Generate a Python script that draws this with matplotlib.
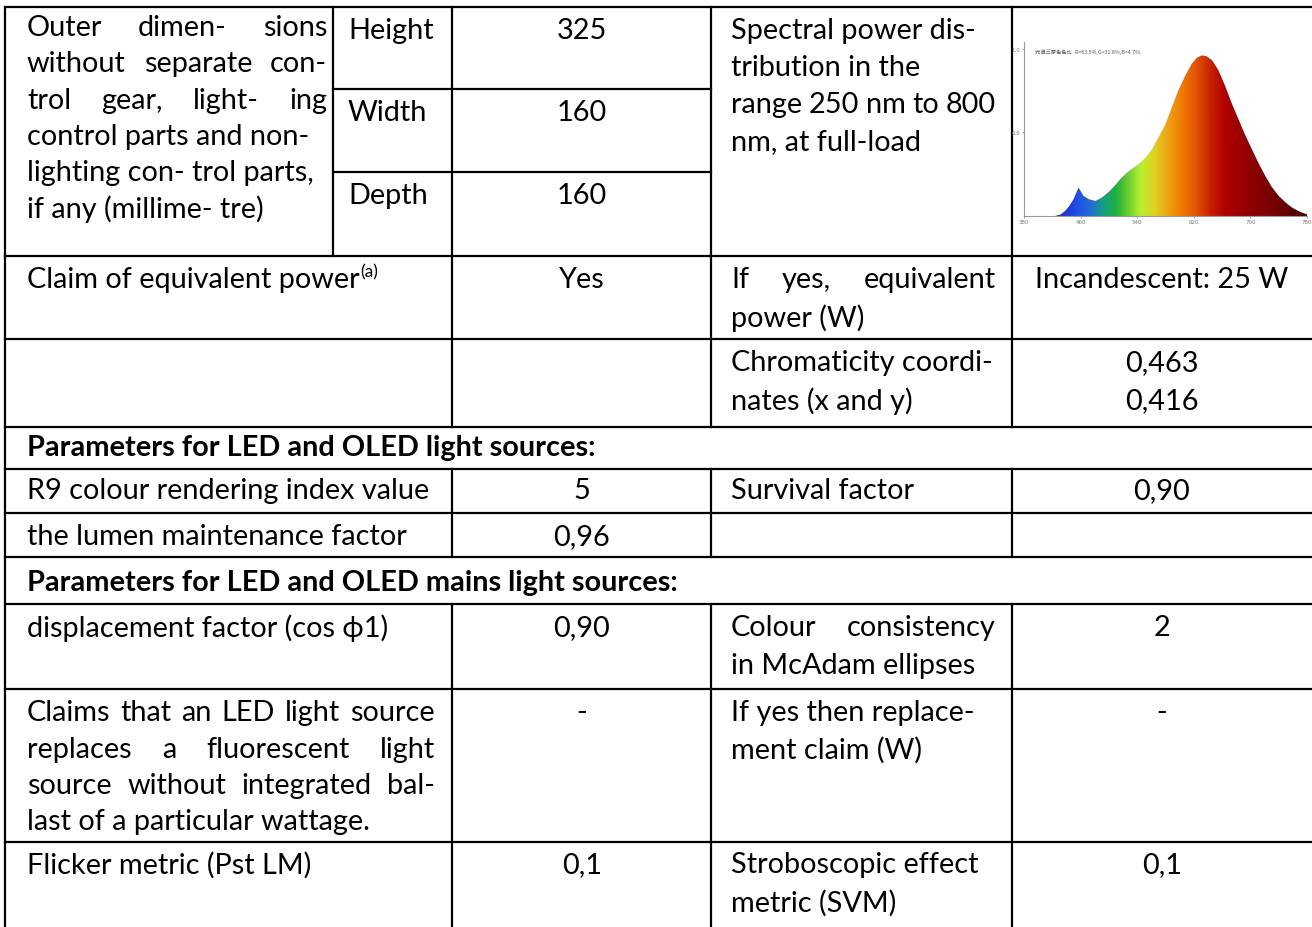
import numpy as np
import matplotlib.pyplot as plt
from matplotlib.colors import LinearSegmentedColormap
from matplotlib.patches import Polygon

# spectral power distribution
wavelength = [380, 424, 432, 438, 444, 450, 454, 457, 460, 464, 472, 481, 490, 500, 508,
              518, 530, 542, 552, 561, 570, 580, 589, 598, 608, 617, 624, 631, 638,
              646, 655, 664, 673, 683, 692, 702, 711, 721, 730, 740, 750, 759, 770, 780]
power = [0.0, 0.0, 0.01, 0.03, 0.06, 0.10, 0.14, 0.17, 0.15, 0.12, 0.10, 0.09, 0.11,
         0.145, 0.18, 0.23, 0.275, 0.31, 0.35, 0.40, 0.47, 0.55, 0.65, 0.75, 0.84, 0.91,
         0.945, 0.96, 0.955, 0.93, 0.87, 0.78, 0.68, 0.58, 0.49, 0.40, 0.32, 0.24, 0.175,
         0.12, 0.08, 0.05, 0.025, 0.01]
wl_ticks = [380, 460, 540, 620, 700, 780]
spec_title = '光谱三原色色比   R=63.5%,G=31.8%,B=4.7%,'

# gradient colours along the wavelength axis
grad_nm = [380, 430, 455, 475, 492, 510, 528, 545, 565, 585, 605, 625, 645, 665, 700, 740, 780]
grad_col = ['#1a2cb0', '#1a30c8', '#1f4fe8', '#2070d0', '#15a080', '#20b040', '#70d030',
            '#b8f030', '#e0d020', '#eea010', '#f07800', '#e05000', '#c82000', '#b00000',
            '#900000', '#700000', '#4a0000']

# table texts
dims = ['Height', 'Width', 'Depth']
dim_vals = ['325', '160', '160']
outer_lines = ['Outer dimen- sions', 'without separate con-', 'trol gear, light- ing',
               'control parts and non-', 'lighting con- trol parts,', 'if any (millime- tre)']
spectral_lines = ['Spectral power dis-', 'tribution in the', 'range 250 nm to 800', 'nm, at full-load']
chroma = ['0,463', '0,416']

FONT = 'Lato'
FS = 20.8

fig = plt.figure(figsize=(13.12, 9.28), dpi=100)
ax = fig.add_axes([0, 0, 1, 1])
ax.set_xlim(0, 1312)
ax.set_ylim(928, 0)
ax.axis('off')
rend = fig.canvas.get_renderer()


def line(s, x, y, x1=None, ha='left', bold=False, size=FS):
    kw = dict(fontsize=size, family=FONT, va='center', weight='bold' if bold else 'normal')
    if x1 is None:
        return ax.text(x, y, s, ha=ha, **kw)
    words = s.split()
    ts = [ax.text(0, y, w, **kw) for w in words]
    ws = [t.get_window_extent(rend).width for t in ts]
    gap = (x1 - x - sum(ws)) / (len(ws) - 1)
    cx = x
    for t, w in zip(ts, ws):
        t.set_x(cx)
        cx += w + gap


LW = 1.6
def hl(y, x0=5, x1=1320):
    ax.plot([x0, x1], [y, y], color='black', lw=LW, solid_capstyle='projecting')

def vl(x, y0, y1):
    ax.plot([x, x], [y0, y1], color='black', lw=LW, solid_capstyle='projecting')


# grid
for y in [8, 257, 340, 428, 470, 514, 558, 605, 690, 843]:
    hl(y)
hl(90, 333, 711)
hl(173, 333, 711)
vl(5, 8, 930)
vl(333, 8, 257)
for x in [452, 711, 1012]:
    vl(x, 8, 428)
    vl(x, 470, 558)
    vl(x, 605, 930)

# row 1
for i, s in enumerate(outer_lines):
    y = 28 + i * 36.3
    line(s, 27, y, 327 if i < 3 else None)
for s, v, y in zip(dims, dim_vals, [31, 113, 196]):
    line(s, 348, y)
    line(v, 582, y, ha='center')
for i, s in enumerate(spectral_lines):
    y = 31 + i * 37
    line(s, 731, y, 996 if i == 2 else None)

# claim row
t = line('Claim of equivalent power', 27, 280)
w = t.get_window_extent(rend).width
ax.text(27 + w + 1, 272, '(a)', fontsize=12.5, family=FONT, va='center')
line('Yes', 582, 280, ha='center')
line('If yes, equivalent', 731, 280, 996)
line('power (W)', 731, 318)
line('Incandescent: 25 W', 1162, 280, ha='center')

# chromaticity
line('Chromaticity coordi-', 731, 363)
line('nates (x and y)', 731, 401)
line(chroma[0], 1162, 363, ha='center')
line(chroma[1], 1162, 401, ha='center')

line('Parameters for LED and OLED light sources:', 27, 448, bold=True)
line('R9 colour rendering index value', 27, 491)
line('5', 582, 491, ha='center')
line('Survival factor', 731, 491)
line('0,90', 1162, 491, ha='center')
line('the lumen maintenance factor', 27, 537)
line('0,96', 582, 537, ha='center')

line('Parameters for LED and OLED mains light sources:', 27, 583, bold=True)
line('displacement factor (cos \u03d51)', 27, 628)
line('0,90', 582, 628, ha='center')
line('Colour consistency', 731, 628, 996)
line('in McAdam ellipses', 731, 666)
line('2', 1162, 628, ha='center')

line('Claims that an LED light source', 27, 713, 435)
line('replaces a fluorescent light', 27, 750, 435)
line('source without integrated bal-', 27, 786, 435)
line('last of a particular wattage.', 27, 822)
line('-', 582, 713, ha='center')
line('If yes then replace-', 731, 713)
line('ment claim (W)', 731, 750)
line('-', 1162, 713, ha='center')

line('Flicker metric (Pst LM)', 27, 865)
line('0,1', 582, 865, ha='center')
line('Stroboscopic effect', 731, 865)
line('metric (SVM)', 731, 903)
line('0,1', 1162, 865, ha='center')

# spectrum picture
x0, x1 = 1024, 1307
yb, yt = 217, 43
sx = fig.add_axes([x0 / 1312, 1 - yb / 928, (x1 - x0) / 1312, (yb - yt) / 928])
sx.set_xlim(380, 780)
sx.set_ylim(0, 1.04)
cmap = LinearSegmentedColormap.from_list(
    'spec', [((n - 380) / 400, c) for n, c in zip(grad_nm, grad_col)])
grad = np.linspace(0, 1, 400).reshape(1, -1)
im = sx.imshow(grad, cmap=cmap, extent=[380, 780, 0, 1.04], aspect='auto',
               interpolation='bilinear')
poly = Polygon(list(zip(wavelength, power)) + [(780, 0), (380, 0)],
               closed=True, facecolor='none', edgecolor='none')
sx.add_patch(poly)
im.set_clip_path(poly)
for side in ['top', 'right']:
    sx.spines[side].set_visible(False)
for side in ['left', 'bottom']:
    sx.spines[side].set_color('#9a9a9a')
    sx.spines[side].set_linewidth(0.8)
sx.set_xticks(wl_ticks)
sx.set_xticklabels([str(v) for v in wl_ticks])
sx.set_yticks([0.5, 1.0])
sx.set_yticklabels(['0.5', '1.0'])
sx.tick_params(labelsize=4, colors='#777777', length=1.5, width=0.5, pad=1)
sx.text(395, 0.985, spec_title, fontsize=3.8, color='#555555', va='center',
        family=['Noto Sans CJK SC', 'DejaVu Sans'])

fig.savefig('out.png', dpi=100)
